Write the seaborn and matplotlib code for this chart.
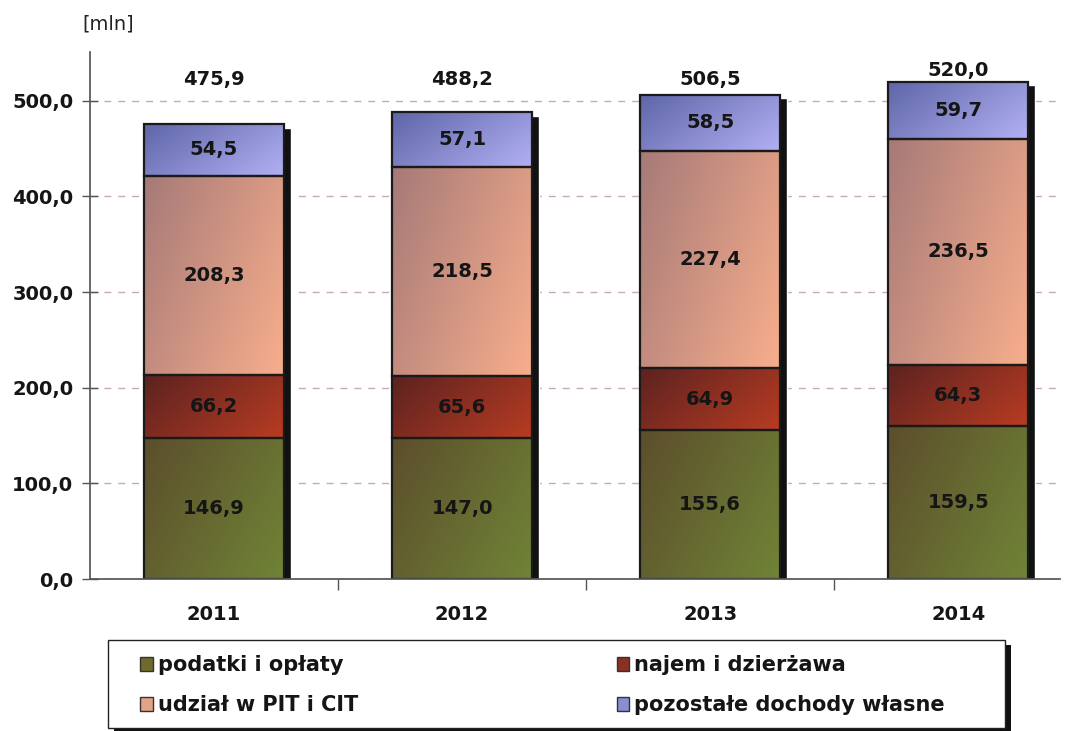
import numpy as np
import seaborn as sns
import matplotlib.pyplot as plt
import matplotlib.ticker as ticker
from matplotlib.colors import to_rgb
from matplotlib.patches import Rectangle, Patch

# data
years = ["2011", "2012", "2013", "2014"]
podatki = [146.9, 147.0, 155.6, 159.5]
najem = [66.2, 65.6, 64.9, 64.3]
udzial = [208.3, 218.5, 227.4, 236.5]
pozostale = [54.5, 57.1, 58.5, 59.7]
totals = [475.9, 488.2, 506.5, 520.0]

series_names = ["podatki i opłaty", "najem i dzierżawa",
                "udział w PIT i CIT", "pozostałe dochody własne"]
series_vals = [podatki, najem, udzial, pozostale]
colors = ["#6e6a2c", "#8c3022", "#e2a386", "#8c8cd2"]
# gradient ends (dark top-left -> light bottom-right), like the scanned bars
grad_ends = [("#5c4e2c", "#708436"), ("#5c2220", "#b83c22"),
             ("#a67a78", "#f8ae8c"), ("#5e66a8", "#b2b0f4")]

sns.set_theme(style="white")
plt.rcParams['font.family'] = ['DejaVu Sans']

fig = plt.figure(figsize=(10.67, 7.31), dpi=100)
ax = fig.add_axes([90 / 1067, 1 - 579 / 731, (1060 - 90) / 1067, (579 - 52) / 731])

bw = 0.565
x = np.arange(len(years))

# black drop shadow to the right of each bar
ax.bar(x + 0.028, np.array(totals) - 4, width=bw, color="#111111", zorder=1)


def fill_gradient(patch, c1, c2):
    bb = patch.get_bbox()
    n = 64
    # row 0 is the top of the bar (origin="upper")
    xs, ys = np.meshgrid(np.linspace(0, 1, n), np.linspace(0, 1, n))
    t = np.clip(0.65 * xs + 0.35 * ys, 0, 1)[..., None]
    img = (1 - t) * np.array(to_rgb(c1)) + t * np.array(to_rgb(c2))
    im = ax.imshow(img, extent=[bb.x0, bb.x1, bb.y0, bb.y1], origin="upper",
                   aspect="auto", zorder=2, interpolation="bilinear")
    im.set_clip_path(patch)
    patch.set_facecolor("none")
    patch.set_zorder(2.5)


bottom = np.zeros(len(years))
for name, vals, col, ends in zip(series_names, series_vals, colors, grad_ends):
    n_before = len(ax.patches)
    sns.barplot(x=years, y=vals, bottom=bottom, color=col, width=bw,
                edgecolor="#1a1a1a", linewidth=1.6, saturation=1,
                ax=ax, zorder=2)
    for p in ax.patches[n_before:]:
        fill_gradient(p, *ends)
    for xi, v, b in zip(x, vals, bottom):
        ax.text(xi, b + v / 2, f"{v:.1f}".replace(".", ","), ha="center",
                va="center", fontsize=14, fontweight="bold", color="#151515",
                zorder=3)
    bottom = bottom + np.array(vals)

for xi, t in zip(x, totals):
    ax.text(xi, max(t, 510) + 12, f"{t:.1f}".replace(".", ","), ha="center",
            va="center", fontsize=14, fontweight="bold", color="#151515")

ax.set_xlim(-0.5, 3.41)
ax.set_ylim(0, 551)
ax.set_xlabel("")
ax.set_ylabel("")

ax.yaxis.set_major_locator(ticker.MultipleLocator(100))
ax.yaxis.set_major_formatter(ticker.FuncFormatter(lambda v, p: f"{v:.1f}".replace(".", ",")))
ax.tick_params(axis="y", direction="inout", length=12, width=1, color="#555555",
               labelsize=14, pad=6, left=True)
ax.set_xticks(x)
ax.set_xticklabels(years)
ax.xaxis.set_minor_locator(ticker.FixedLocator([0.5, 1.5, 2.5]))
ax.tick_params(axis="x", which="major", length=0, labelsize=14, pad=19)
ax.tick_params(axis="x", which="minor", direction="out", length=8, width=1,
               color="#555555", bottom=True)
for lab in ax.get_xticklabels() + ax.get_yticklabels():
    lab.set_fontweight("bold")
    lab.set_color("#151515")

ax.grid(axis="y", color="#c9a9b9", linestyle=(0, (5, 5)), linewidth=1)
ax.set_axisbelow(True)
sns.despine(ax=ax)
ax.spines["left"].set_color("#555555")
ax.spines["bottom"].set_color("#555555")

fig.text(82 / 1067, 1 - 24 / 731, "[mln]", fontsize=14, va="center", ha="left",
         color="#222222")

# legend box with shadow
lx0, ly0, lx1, ly1 = 108 / 1067, 1 - 728 / 731, 1005 / 1067, 1 - 640 / 731
fig.patches.append(Rectangle((lx0 + 6 / 1067, ly0 - 5 / 731), lx1 - lx0, ly1 - ly0,
                             transform=fig.transFigure, facecolor="#111111",
                             edgecolor="none", zorder=0))
fig.patches.append(Rectangle((lx0, ly0), lx1 - lx0, ly1 - ly0,
                             transform=fig.transFigure, facecolor="white",
                             edgecolor="#222222", linewidth=1, zorder=1))

handles = [Patch(facecolor=c, edgecolor="#333333", linewidth=1) for c in colors]
order = [0, 2, 1, 3]
leg = fig.legend([handles[i] for i in order], [series_names[i] for i in order],
                 ncol=2, loc="upper left", bbox_to_anchor=(132 / 1067, 1 - 647 / 731),
                 frameon=False, fontsize=15, handlelength=0.6, handleheight=0.7,
                 handletextpad=0.25, columnspacing=12.4, labelspacing=0.95,
                 borderaxespad=0)
for t in leg.get_texts():
    t.set_fontweight("bold")
    t.set_color("#151515")

fig.savefig("out.png", dpi=100, facecolor="white")
